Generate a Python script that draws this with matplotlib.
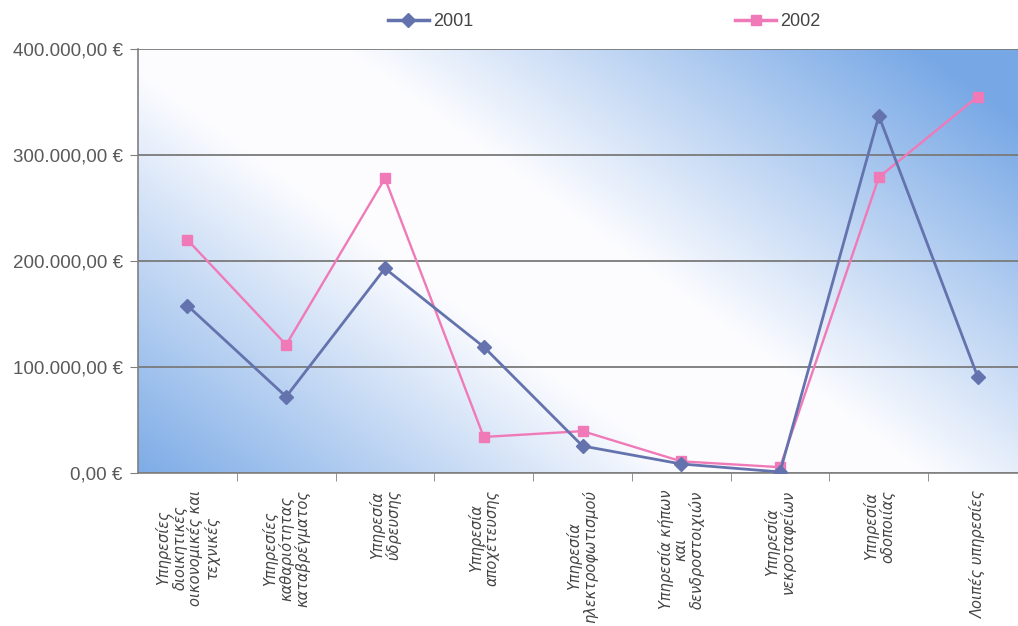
import numpy as np
import matplotlib
matplotlib.use("Agg")
import matplotlib.pyplot as plt
from matplotlib.lines import Line2D
from matplotlib.ticker import FuncFormatter, FixedLocator

categories = [
    "Υπηρεσίες\nδιοικητικές\nοικονομικές και\nτεχνικές",
    "Υπηρεσίες\nκαθαριότητας\nκαταβρέγματος",
    "Υπηρεσία\nύδρευσης",
    "Υπηρεσία\nαποχέτευσης",
    "Υπηρεσία\nηλεκτροφωτισμού",
    "Υπηρεσία κήπων\nκαι\nδενδροστοιχιών",
    "Υπηρεσία\nνεκροταφείων",
    "Υπηρεσία\nοδοποιίας",
    "Λοιπές υπηρεσίες",
]
series_2001 = [158000, 72000, 193000, 119000, 25500, 8500, 1000, 337000, 91000]
series_2002 = [220000, 121000, 278000, 34000, 39500, 11000, 5500, 279000, 355000]
y_ticks = [0, 100000, 200000, 300000, 400000]
legend_labels = ["2001", "2002"]

W, H = 1018, 626
fig = plt.figure(figsize=(W / 100, H / 100), dpi=100)
fig.patch.set_facecolor("white")

L, R, T, B = 138, 1027, 49, 473
ax = fig.add_axes([L / W, 1 - B / H, (R - L) / W, (B - T) / H])

# background gradient
nx, ny = 400, 200
xs = np.linspace(L, R, nx)
ys = np.linspace(T, B, ny)
X, Y = np.meshgrid(xs, ys)
d = (X - 228) * 0.592 - (Y - 49) * 0.806
t = np.clip((np.abs(d) - 70) / 340, 0, 1) ** 1.0
white = np.array([0.99, 0.99, 1.0])
blue = np.array([0.47, 0.66, 0.90])
img = white[None, None, :] * (1 - t[..., None]) + blue[None, None, :] * t[..., None]
ax.imshow(img, extent=(0, 1, 0, 1), transform=ax.transAxes, aspect="auto",
          zorder=0, interpolation="bilinear")

x = np.arange(len(categories))
blue_c = "#6473ad"
pink_c = "#f07ab8"
ax.plot(x, series_2001, color=blue_c, lw=2.0, marker="D", ms=7,
        mfc=blue_c, mec=blue_c, zorder=4, label=legend_labels[0])
ax.plot(x, series_2002, color=pink_c, lw=1.7, marker="s", ms=7.5,
        mfc=pink_c, mec=pink_c, zorder=3, label=legend_labels[1])

ax.set_xlim(-0.5, len(categories) - 0.5)
ax.set_ylim(0, 400000)

for yv in y_ticks:
    ax.axhline(yv, color="#7a7a7a", lw=1.3, zorder=2)

ax.set_yticks(y_ticks)
ax.yaxis.set_major_formatter(FuncFormatter(
    lambda v, p: f"{v:,.2f}".replace(",", "X").replace(".", ",").replace("X", ".") + " €"))
ax.tick_params(axis="y", direction="out", length=6, color="#808080",
               labelsize=13.5, labelcolor="#595959", pad=5)
for lab in ax.get_yticklabels():
    lab.set_family(["Liberation Sans", "DejaVu Sans"])

ax.set_xticks(x)
ax.set_xticklabels(categories, rotation=90, ha="center", va="top",
                   multialignment="center", fontsize=10.5, style="italic",
                   color="#444444", linespacing=1.0)
ax.tick_params(axis="x", which="major", length=0, pad=12)
ax.xaxis.set_minor_locator(FixedLocator(np.arange(0.5, len(categories) - 0.5, 1)))
ax.tick_params(axis="x", which="minor", length=6, direction="out", color="#808080")

for s in ["top", "right"]:
    ax.spines[s].set_visible(False)
for s in ["left", "bottom"]:
    ax.spines[s].set_color("#808080")
    ax.spines[s].set_linewidth(1.2)

handles = [
    Line2D([], [], color=blue_c, lw=2.5, marker="D", ms=7, mfc=blue_c, mec=blue_c),
    Line2D([], [], color=pink_c, lw=2.5, marker="s", ms=7, mfc=pink_c, mec=pink_c),
]
leg = fig.legend(handles, legend_labels, ncol=2, loc="center",
                 bbox_to_anchor=(604 / W, 1 - 22 / H), frameon=False,
                 fontsize=13, handlelength=2.3, handletextpad=0.2,
                 columnspacing=14.5)
for txt in leg.get_texts():
    txt.set_color("#444444")
    txt.set_family(["Liberation Sans", "DejaVu Sans"])

fig.savefig("out.png", dpi=100)
